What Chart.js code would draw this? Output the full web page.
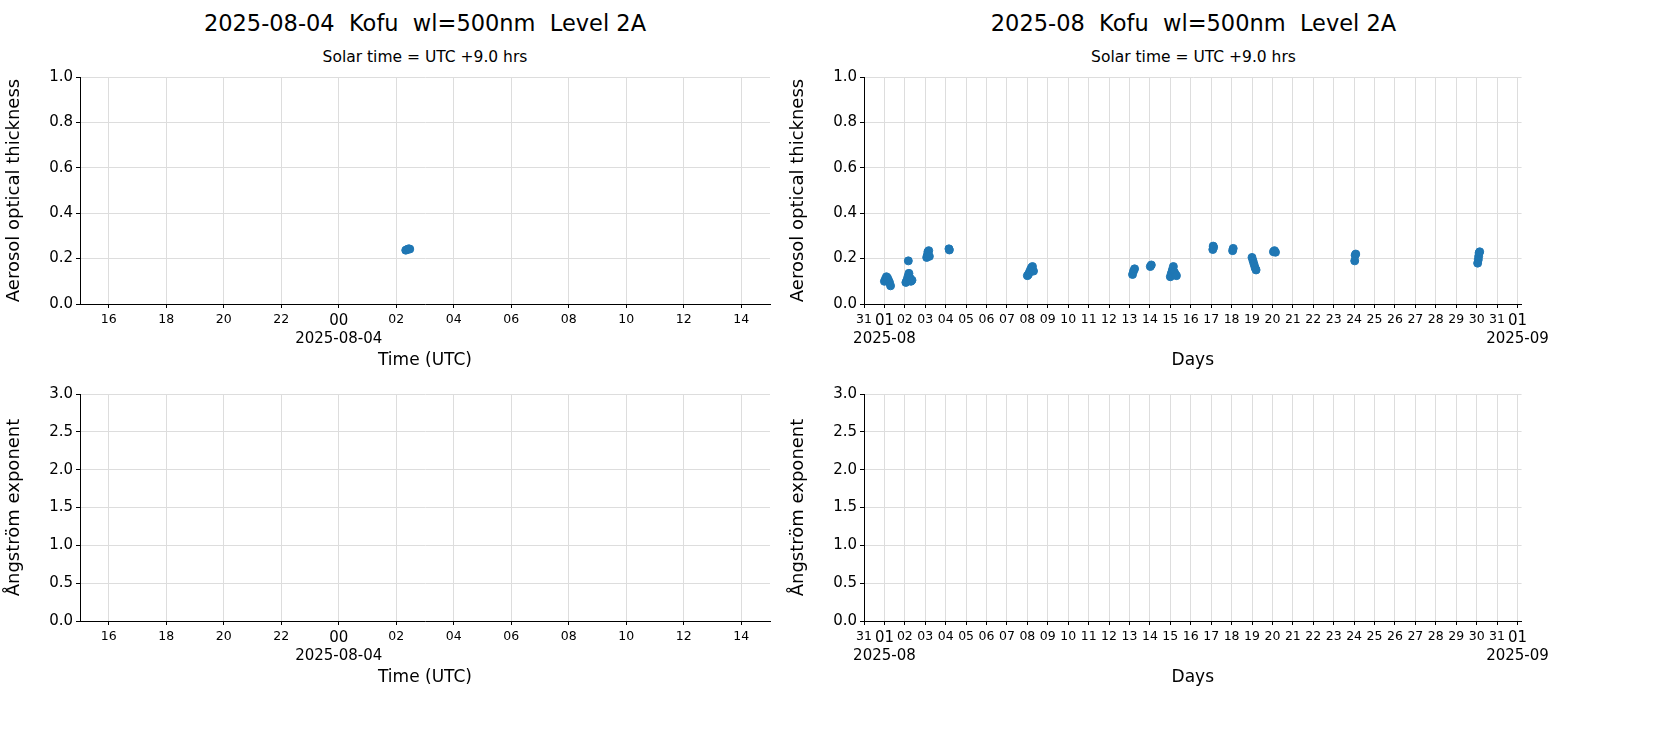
<!DOCTYPE html>
<html><head><meta charset="utf-8">
<script src="https://cdn.jsdelivr.net/npm/chart.js@4/dist/chart.umd.min.js"></script>
<style>
body{margin:0;width:1654px;height:737px;background:#fff;font-family:"DejaVu Sans",sans-serif;position:relative;overflow:hidden}
.t{position:absolute;text-align:center;color:#000}
canvas{position:absolute}
</style></head><body>
<div class="t" style="left:80px;width:690px;top:10px;font-size:22.5px">2025-08-04&nbsp; Kofu&nbsp; wl=500nm&nbsp; Level 2A</div>
<div class="t" style="left:864px;width:659px;top:10px;font-size:22.5px">2025-08&nbsp; Kofu&nbsp; wl=500nm&nbsp; Level 2A</div>
<div class="t" style="left:80px;width:690px;top:48px;font-size:15.5px">Solar time = UTC +9.0 hrs</div>
<div class="t" style="left:864px;width:659px;top:48px;font-size:15.5px">Solar time = UTC +9.0 hrs</div>
<div style="position:absolute;left:0;top:65px;width:800px;height:310px"><canvas id="c1"></canvas></div>
<div style="position:absolute;left:784px;top:65px;width:769px;height:310px"><canvas id="c2"></canvas></div>
<div style="position:absolute;left:0;top:382px;width:800px;height:310px"><canvas id="c3"></canvas></div>
<div style="position:absolute;left:784px;top:382px;width:769px;height:310px"><canvas id="c4"></canvas></div>
<script>
// Daily: hours relative to 2025-08-04 00:00 UTC
const dailyHours = [2.33, 2.38, 2.43, 2.47];
const dailyAOT   = [0.237, 0.240, 0.243, 0.242];
// Monthly: day of August (fractional, 1 = Aug 1 00:00 UTC)
const monthDays = [1.0,1.05,1.1,1.15,1.2,1.25,1.3, 2.17,2.05,2.1,2.15,2.2,2.25,2.3,2.35, 3.07,3.1,3.13,3.17,3.2, 4.16,4.18,
  8.0,8.05,8.1,8.15,8.2,8.25,8.3, 13.15,13.2,13.25, 14.02,14.07, 15.0,15.05,15.1,15.15,15.2,15.25,15.3,
  17.08,17.1,17.12, 18.05,18.08, 19.0,19.05,19.1,19.15,19.2, 20.05,20.1,20.15, 24.03,24.05,24.08, 30.05,30.08,30.1,30.12,30.15];
const monthAOT  = [0.10,0.11,0.12,0.115,0.105,0.095,0.08, 0.19,0.095,0.105,0.12,0.135,0.115,0.10,0.105, 0.205,0.215,0.23,0.235,0.21, 0.243,0.238,
  0.125,0.13,0.14,0.15,0.16,0.165,0.145, 0.13,0.145,0.155, 0.165,0.172, 0.12,0.135,0.15,0.165,0.14,0.13,0.125,
  0.24,0.255,0.25, 0.235,0.245, 0.205,0.19,0.175,0.16,0.15, 0.23,0.235,0.228, 0.19,0.215,0.22, 0.18,0.195,0.21,0.225,0.23];
const aotTicks = [0,0.2,0.4,0.6,0.8,1.0];
const angTicks = [0,0.5,1,1.5,2,2.5,3];
const dayDateLabel = '2025-08-04';

const pad = n => String(((n%24)+24)%24).padStart(2,'0');
function xDaily(title){
  return {type:'linear',min:-9,max:15,afterFit:s=>{s.height=71;},
    afterBuildTicks:s=>{s.ticks=[];for(let h=-8;h<=14;h+=2)s.ticks.push({value:h});},
    ticks:{autoSkip:false,maxRotation:0,color:'#000',padding:4,
      font:c=>({size:c.tick&&c.tick.value===0?15:12.5,family:'DejaVu Sans'}),
      callback:v=>v===0?['00',dayDateLabel]:pad(v)},
    grid:{color:'#ddd',tickColor:'#000',tickLength:4},border:{color:'#000'},
    title:{display:true,text:title,color:'#000',font:{size:17},padding:{top:0}}};
}
function xMonth(title){
  return {type:'linear',min:0,max:32.2,afterFit:s=>{s.height=71;},
    afterBuildTicks:s=>{s.ticks=[];for(let d=0;d<=32;d++)s.ticks.push({value:d});},
    ticks:{autoSkip:false,maxRotation:0,color:'#000',padding:4,
      font:c=>({size:(c.tick&&(c.tick.value===1||c.tick.value===32))?15:12.5,family:'DejaVu Sans'}),
      callback:v=>v===0?'31':v===1?['01','2025-08']:v===32?['01','2025-09']:String(v).padStart(2,'0')},
    grid:{color:'#ddd',tickColor:'#000',tickLength:4},border:{color:'#000'},
    title:{display:true,text:title,color:'#000',font:{size:17},padding:{top:0}}};
}
function yAxis(max,ticks,title){
  return {min:0,max:max,afterFit:s=>{s.width=80;},
    afterBuildTicks:s=>{s.ticks=ticks.map(v=>({value:v}));},
    ticks:{color:'#000',font:{size:15},callback:v=>v.toFixed(1)},
    grid:{color:'#ddd',tickColor:'#000',tickLength:4},border:{color:'#000'},
    title:{display:true,text:title,color:'#000',font:{size:18},padding:{bottom:2}}};
}
function make(id,xs,ys,x,y){
  const data = xs.map((v,i)=>({x:v,y:ys[i]}));
  new Chart(document.getElementById(id),{type:'scatter',
    data:{datasets:[{data:data,backgroundColor:'#1f77b4',borderColor:'#1f77b4',pointRadius:4,pointHoverRadius:4}]},
    options:{responsive:true,maintainAspectRatio:false,animation:false,
      layout:{padding:{top:5,right:30,left:0,bottom:0}},
      plugins:{legend:{display:false},tooltip:{enabled:false}},
      scales:{x:x,y:y}}});
}
Chart.defaults.font.family='DejaVu Sans';
make('c1',dailyHours,dailyAOT,xDaily('Time (UTC)'),yAxis(1,aotTicks,'Aerosol optical thickness'));
make('c2',monthDays,monthAOT,xMonth('Days'),yAxis(1,aotTicks,'Aerosol optical thickness'));
make('c3',[],[],xDaily('Time (UTC)'),yAxis(3,angTicks,'Ångström exponent'));
make('c4',[],[],xMonth('Days'),yAxis(3,angTicks,'Ångström exponent'));
</script></body></html>
